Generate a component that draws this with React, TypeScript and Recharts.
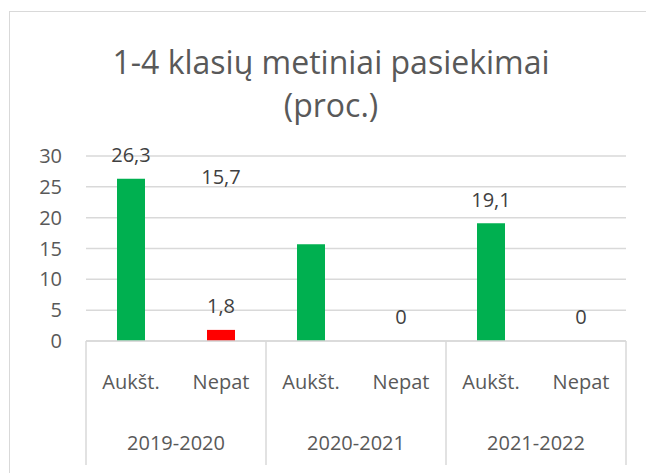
import React from "react";
import { BarChart, Bar, XAxis, YAxis, CartesianGrid, Cell, LabelList, ReferenceDot } from "recharts";

const years = ["2019-2020", "2020-2021", "2021-2022"];
const types = ["Aukšt.", "Nepat"];
const auksti = [26.3, 15.7, 19.1];
const nepat = [1.8, 0, 0];
const yTicks = [0, 5, 10, 15, 20, 25, 30];

// the original chart has the 15,7 label dragged away from its bar
const hiddenLabels = ["2020-2021|Aukšt."];
const strayLabel = { at: "2019-2020|Nepat", value: 26.6, text: "15,7" };

const COLORS = { "Aukšt.": "#00B050", Nepat: "#FF0000" };
const FONT = "'Open Sans', sans-serif";
const TEXT = "#595959";
const GRID = "#d9d9d9";
const FS = 20;

const data = years.flatMap((year, i) => [
  { key: `${year}|${types[0]}`, year, type: types[0], value: auksti[i] },
  { key: `${year}|${types[1]}`, year, type: types[1], value: nepat[i] },
]);

const fmt = (v: number) => String(v).replace(".", ",");

function TypeTick(props: any) {
  const { x, y, payload, index } = props;
  const half = payload.offset ?? 45;
  const type = String(payload.value).split("|")[1];
  return (
    <g>
      {index % types.length === 0 && (
        <line x1={x - half} x2={x - half} y1={y} y2={y + 124} stroke={GRID} strokeWidth={1.5} />
      )}
      {index === data.length - 1 && (
        <line x1={x + half} x2={x + half} y1={y} y2={y + 124} stroke={GRID} strokeWidth={1.5} />
      )}
      <text x={x} y={y + 40} textAnchor="middle" dominantBaseline="central" fill={TEXT} fontSize={FS} fontFamily={FONT}>
        {type}
      </text>
    </g>
  );
}

function YearTick(props: any) {
  const { x, y, payload } = props;
  return (
    <text x={x} y={y + 41} textAnchor="middle" dominantBaseline="central" fill={TEXT} fontSize={FS} fontFamily={FONT}>
      {payload.value}
    </text>
  );
}

function BarLabel(props: any) {
  const { x, y, width, value, index } = props;
  if (hiddenLabels.includes(data[index].key)) return null;
  return (
    <text x={x + width / 2} y={y - 24} textAnchor="middle" dominantBaseline="central" fill="#404040" fontSize={FS} fontFamily={FONT}>
      {fmt(value)}
    </text>
  );
}

export default function App() {
  return (
    <>
      <style>{`html,body{margin:0;overflow:hidden;background:#fff}`}</style>
      <div
        style={{
          position: "absolute",
          left: 9,
          top: 11,
          width: 636,
          height: 461,
          borderLeft: `1px solid ${GRID}`,
          borderTop: `1px solid ${GRID}`,
          background: "#fff",
        }}
      >
        <div
          style={{
            position: "absolute",
            left: 0,
            top: 28,
            width: 642,
            textAlign: "center",
            fontFamily: FONT,
            fontSize: 32,
            lineHeight: "43px",
            color: TEXT,
          }}
        >
          1-4 klasių metiniai pasiekimai
          <br />
          (proc.)
        </div>
        <BarChart width={636} height={461} data={data} margin={{ top: 144, right: 20, bottom: 8, left: 0 }}>
          <CartesianGrid vertical={false} stroke={GRID} strokeWidth={1.5} />
          <YAxis
            domain={[0, 30]}
            ticks={yTicks}
            width={76}
            axisLine={false}
            tickLine={false}
            tickSize={0}
            tickMargin={24}
            tick={{ fill: TEXT, fontSize: FS, fontFamily: FONT }}
          />
          <XAxis
            dataKey="key"
            height={60}
            axisLine={{ stroke: GRID, strokeWidth: 1.5 }}
            tickLine={false}
            tickSize={0}
            tickMargin={0}
            interval={0}
            tick={<TypeTick />}
          />
          <XAxis
            xAxisId="year"
            dataKey="year"
            allowDuplicatedCategory={false}
            height={64}
            axisLine={false}
            tickLine={false}
            tickSize={0}
            tickMargin={0}
            interval={0}
            tick={<YearTick />}
          />
          <Bar dataKey="value" barSize={28} minPointSize={0.01} isAnimationActive={false}>
            {data.map((d) => (
              <Cell key={d.key} fill={COLORS[d.type as keyof typeof COLORS]} />
            ))}
            <LabelList dataKey="value" content={<BarLabel />} />
          </Bar>
          <ReferenceDot
            x={strayLabel.at}
            y={strayLabel.value}
            r={0}
            fill="none"
            stroke="none"
            label={{ value: strayLabel.text, position: "center", fill: "#404040", fontSize: FS, fontFamily: FONT }}
          />
        </BarChart>
      </div>
    </>
  );
}
